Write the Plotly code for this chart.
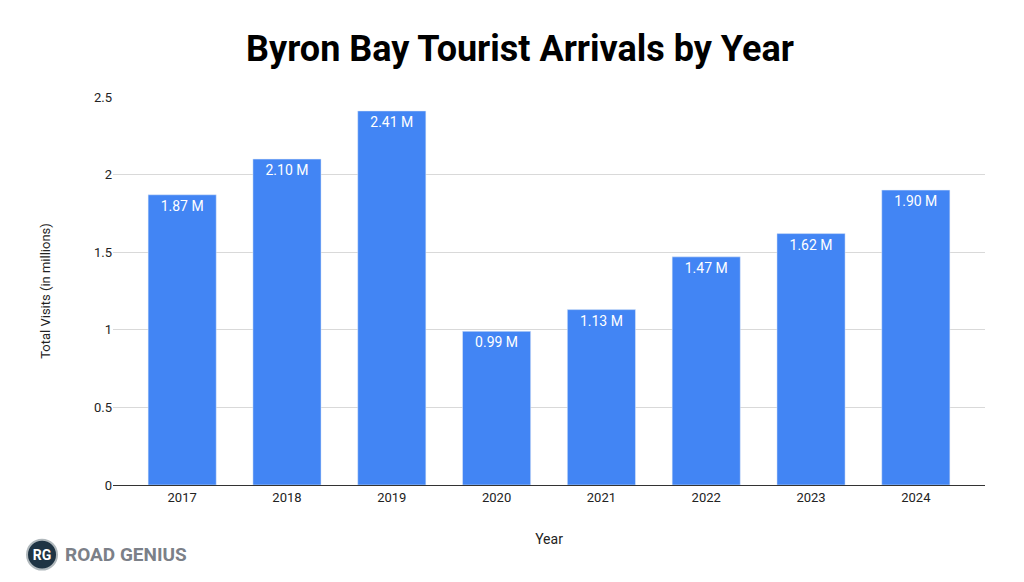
import plotly.graph_objects as go

years = ["2017", "2018", "2019", "2020", "2021", "2022", "2023", "2024"]
visits = [1.87, 2.10, 2.41, 0.99, 1.13, 1.47, 1.62, 1.90]
labels = ["1.87 M", "2.10 M", "2.41 M", "0.99 M", "1.13 M", "1.47 M", "1.62 M", "1.90 M"]
y_ticks = [0, 0.5, 1, 1.5, 2, 2.5]
y_tick_text = ["0", "0.5", "1", "1.5", "2", "2.5"]

fig = go.Figure(go.Bar(
    x=years, y=visits, text=labels, textposition="inside", insidetextanchor="end",
    textfont=dict(color="white", size=14, family="Roboto"),
    marker_color="#4285f4", width=0.65,
))

# page is drawn 8px in from the window edge, so margins are shifted by 8
fig.update_layout(
    width=1024, height=582, plot_bgcolor="white", paper_bgcolor="white",
    margin=dict(l=105, r=47, t=89, b=105, autoexpand=False),
    title=dict(text="<b>Byron Bay Tourist Arrivals by Year</b>", x=0.5, xanchor="center",
               y=0.93, yanchor="middle", font=dict(size=36, color="black", family="Roboto")),
    font=dict(family="Roboto", color="#222"),
    showlegend=False,
)
fig.update_xaxes(title=dict(text="Year", font=dict(size=14), standoff=30),
                 range=[-0.66, 7.66], tickfont=dict(size=13),
                 showline=True, linecolor="#333", ticks="")
fig.update_yaxes(title=dict(text="Total Visits (in millions)", font=dict(size=13), standoff=40),
                 range=[0, 2.5], tickvals=y_ticks, ticktext=y_tick_text,
                 tickfont=dict(size=13), gridcolor="#d9d9d9", zeroline=False)

# logo
fig.add_shape(type="circle", xref="paper", yref="paper",
              x0=-0.0986, x1=-0.0642, y0=-0.218, y1=-0.141,
              fillcolor="#1f3444", line=dict(color="#b0b8bc", width=2))
fig.add_annotation(xref="paper", yref="paper", x=-0.0814, y=-0.1795, text="<b>RG</b>",
                   showarrow=False, xanchor="center", yanchor="middle", width=30,
                   font=dict(color="white", size=14, family="Roboto"))
fig.add_annotation(xref="paper", yref="paper", x=-0.057, y=-0.1795, xanchor="left",
                   yanchor="middle", text="<b>ROAD GENIUS</b>", showarrow=False,
                   font=dict(color="#7b8088", size=19, family="Roboto"))

fig.write_html("out.html")
